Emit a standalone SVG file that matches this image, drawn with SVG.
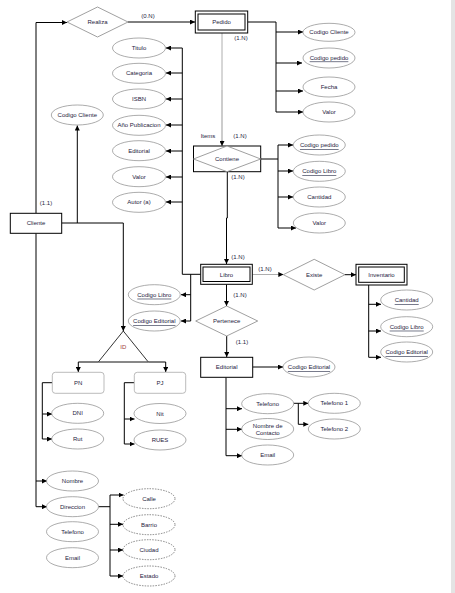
<svg xmlns="http://www.w3.org/2000/svg" width="455" height="593" viewBox="0 0 455 593">
<defs>
<marker id="arr" markerUnits="userSpaceOnUse" markerWidth="5" markerHeight="5" refX="5" refY="2.5" orient="auto"><path d="M0,0 L5,2.5 L0,5 z" fill="#000"/></marker>
<style>
text{font-family:"Liberation Sans",Arial,sans-serif;font-size:6px;fill:#1e2340;text-anchor:middle;dominant-baseline:central}
.u{text-decoration:underline}
.lbl{font-size:6px}
ellipse{fill:#fff;stroke:#888;stroke-width:0.7}
.dash{stroke-dasharray:1.5,1.2;stroke:#555}
.ent{fill:#fff;stroke:#000;stroke-width:1}
.rel{fill:#fff;stroke:#888;stroke-width:0.8}
.c{fill:none;stroke:#000;stroke-width:1}
.a{marker-end:url(#arr)}
.g{fill:none;stroke:#999;stroke-width:0.8}
.soft{fill:#fff;stroke:#aaa;stroke-width:0.8}
</style>
</defs>
<rect width="455" height="593" fill="#fff"/>
<rect x="451" y="0" width="4" height="593" fill="#e4e4e4"/>

<g id="connectors">
<polyline class="c a" points="36,213 36,22.5 67,22.5"/>
<line class="c a" x1="128" y1="22" x2="195" y2="22"/>
<polyline class="c" points="248,22 276,22 276,112"/>
<line class="c a" x1="276" y1="32" x2="303" y2="32"/>
<line class="c a" x1="276" y1="63" x2="302" y2="63"/>
<line class="c a" x1="276" y1="91" x2="303" y2="91"/>
<line class="c a" x1="276" y1="112" x2="303" y2="112"/>
<line class="g" x1="222" y1="33" x2="222" y2="90"/>
<line stroke="#ccc" stroke-width="2" x1="222" y1="90" x2="222" y2="142"/>
<line class="g a" x1="222" y1="140" x2="222" y2="146"/>
<polyline class="c" points="261,159 278,159"/>
<line class="c" x1="278" y1="145" x2="278" y2="228"/>
<line class="c a" x1="278" y1="145" x2="293" y2="145"/>
<line class="c a" x1="278" y1="171" x2="293" y2="171"/>
<line class="c a" x1="278" y1="197" x2="293" y2="197"/>
<line class="c a" x1="278" y1="228" x2="296" y2="228"/>
<polyline class="c a" points="227.3,172 227.3,218 226.5,218 226.5,264"/>
<polyline class="c" points="182.3,48 182.3,274.3 200.7,274.3"/>
<line class="c a" x1="182.3" y1="48" x2="166" y2="48"/>
<line class="c a" x1="182.3" y1="73" x2="166" y2="73"/>
<line class="c a" x1="182.3" y1="99" x2="166" y2="99"/>
<line class="c a" x1="182.3" y1="125" x2="166" y2="125"/>
<line class="c a" x1="182.3" y1="151" x2="166" y2="151"/>
<line class="c a" x1="182.3" y1="177" x2="166" y2="177"/>
<line class="c a" x1="182.3" y1="202" x2="166" y2="202"/>
<polyline class="c" points="190.7,274.3 190.7,321"/>
<line class="c a" x1="190.7" y1="294.7" x2="181" y2="294.7"/>
<line class="c a" x1="190.7" y1="321" x2="181" y2="321"/>
<line class="c a" x1="226.5" y1="284.3" x2="226.5" y2="306"/>
<line class="c a" x1="226.7" y1="336" x2="226.7" y2="357"/>
<line class="c a" x1="252.7" y1="367" x2="283" y2="367"/>
<line class="c" x1="226" y1="377.3" x2="226" y2="455.7"/>
<line class="c a" x1="226" y1="408.7" x2="242" y2="408.7"/>
<line class="c a" x1="226" y1="429.3" x2="242" y2="429.3"/>
<line class="c a" x1="226" y1="455.7" x2="242" y2="455.7"/>
<line class="c a" x1="293.5" y1="403.3" x2="308.3" y2="403.3"/>
<polyline class="c a" points="298.3,403.3 298.3,424.3 308.3,424.3"/>
<line class="g a" x1="252.3" y1="274.5" x2="283.3" y2="274.5"/>
<line class="c a" x1="345" y1="274.7" x2="356" y2="274.7"/>
<line class="c" x1="368.7" y1="285" x2="368.7" y2="357.3"/>
<line class="c a" x1="368.7" y1="304.3" x2="381" y2="304.3"/>
<line class="c a" x1="368.7" y1="331" x2="381" y2="331"/>
<line class="c a" x1="368.7" y1="357.3" x2="381" y2="357.3"/>
<polyline class="c a" points="61.7,223 123.3,223 123.3,331"/>
<line class="c a" x1="77.3" y1="223" x2="77.3" y2="125.5"/>
<line class="c" x1="36" y1="233.3" x2="36" y2="506.7"/>
<line class="c a" x1="36" y1="481" x2="47" y2="481"/>
<line class="c a" x1="36" y1="506.7" x2="47" y2="506.7"/>
<polyline class="c" points="98.3,506.7 110,506.7"/>
<line class="c" x1="110" y1="495" x2="110" y2="576"/>
<line class="c a" x1="110" y1="495" x2="123.5" y2="495"/>
<line class="c a" x1="110" y1="524.3" x2="123" y2="524.3"/>
<line class="c a" x1="110" y1="550" x2="123" y2="550"/>
<line class="c a" x1="110" y1="576" x2="123" y2="576"/>
<polyline class="c a" points="98.3,362 78.3,362 78.3,372"/>
<polyline class="c a" points="148.3,362 165.7,362 165.7,372"/>
<polyline class="c" points="52.3,382.7 42.3,382.7 42.3,439"/>
<line class="c a" x1="42.3" y1="414" x2="52" y2="414"/>
<line class="c a" x1="42.3" y1="439" x2="52" y2="439"/>
<polyline class="c" points="134.3,382.7 124.3,382.7 124.3,444"/>
<line class="c a" x1="124.3" y1="419" x2="134.5" y2="419"/>
<line class="c a" x1="124.3" y1="444" x2="134.5" y2="444"/>
</g>

<g id="labels">
<text x="148" y="16">(0.N)</text>
<text x="241" y="38">(1.N)</text>
<text x="208" y="136">Items</text>
<text x="240" y="136">(1.N)</text>
<text x="238" y="177">(1.N)</text>
<text x="238" y="257">(1.N)</text>
<text x="240" y="295">(1.N)</text>
<text x="242" y="342">(1.1)</text>
<text x="265" y="269">(1.N)</text>
<text x="46" y="203">(1.1)</text>
</g>

<g id="realiza"><polygon class="rel" points="67,22 97.5,7 128,22 97.5,37"/><text x="97.5" y="22">Realiza</text></g>
<g id="pedido"><rect class="ent" x="195.3" y="11" width="52.4" height="22"/><rect class="ent" x="198" y="14" width="47" height="16"/><text x="221.5" y="22">Pedido</text></g>
<g id="pedido-codcliente"><ellipse cx="329" cy="32.3" rx="26" ry="9"/><text x="329" y="32.3">Codigo Cliente</text></g>
<g id="pedido-codpedido"><ellipse cx="329" cy="58" rx="26" ry="10"/><text class="u" x="329" y="57.5">Codigo pedido</text></g>
<g id="pedido-fecha"><ellipse cx="329" cy="87" rx="26" ry="10"/><text x="329" y="86.7">Fecha</text></g>
<g id="pedido-valor"><ellipse cx="329" cy="112" rx="26" ry="10"/><text x="329" y="111.7">Valor</text></g>

<g id="contiene"><rect class="ent" x="193.5" y="146" width="67.2" height="25.7"/><polygon class="rel" points="193.5,159 227,146 260.7,159 227,171.7"/><text x="227" y="159">Contiene</text></g>
<g id="contiene-codpedido"><ellipse cx="319.3" cy="145" rx="26" ry="10"/><text class="u" x="319.3" y="145">Codigo pedido</text></g>
<g id="contiene-codlibro"><ellipse cx="319.3" cy="171.3" rx="26" ry="10"/><text class="u" x="319.3" y="171.3">Codigo Libro</text></g>
<g id="contiene-cantidad"><ellipse cx="319.3" cy="197" rx="26" ry="10"/><text x="319.3" y="197">Cantidad</text></g>
<g id="contiene-valor"><ellipse cx="319.3" cy="223" rx="26" ry="10"/><text x="319.3" y="222.7">Valor</text></g>

<g id="libro-titulo"><ellipse cx="139" cy="48" rx="26.5" ry="10"/><text x="139" y="48">Titulo</text></g>
<g id="libro-categoria"><ellipse cx="139" cy="73.3" rx="26.5" ry="10"/><text x="139" y="73.3">Categoria</text></g>
<g id="libro-isbn"><ellipse cx="139" cy="99" rx="26.5" ry="10"/><text x="139" y="99">ISBN</text></g>
<g id="libro-anio"><ellipse cx="139" cy="125.3" rx="26.5" ry="10"/><text x="139" y="125.3">Año Publicacion</text></g>
<g id="libro-editorial"><ellipse cx="139" cy="150.7" rx="26.5" ry="10"/><text x="139" y="150.7">Editorial</text></g>
<g id="libro-valor"><ellipse cx="139" cy="176.7" rx="26.5" ry="10"/><text x="139" y="176.7">Valor</text></g>
<g id="libro-autor"><ellipse cx="139" cy="202.3" rx="26.5" ry="10"/><text x="139" y="202.3">Autor (a)</text></g>

<g id="libro"><rect class="ent" x="200.7" y="264.3" width="51.6" height="20"/><rect class="ent" x="203" y="267" width="47" height="14.5"/><text x="226.5" y="274.5">Libro</text></g>
<g id="libro-codlibro"><ellipse cx="154.3" cy="294.7" rx="26" ry="10"/><text class="u" x="154.3" y="294.7">Codigo Libro</text></g>
<g id="libro-codeditorial"><ellipse cx="154.3" cy="321" rx="26" ry="10"/><text class="u" x="154.3" y="321">Codigo Editorial</text></g>

<g id="existe"><polygon class="rel" points="283.3,274.7 314.2,259.3 345,274.7 314.2,290"/><text x="314.2" y="274.7">Existe</text></g>
<g id="inventario"><rect class="ent" x="356" y="264.3" width="51" height="20.7"/><rect class="ent" x="358.7" y="267" width="45.6" height="15.3"/><text x="381.5" y="274.7">Inventario</text></g>
<g id="inv-cantidad"><ellipse cx="406.7" cy="300" rx="26" ry="10"/><text class="u" x="406.7" y="300">Cantidad</text></g>
<g id="inv-codlibro"><ellipse cx="406.7" cy="326.7" rx="26" ry="10"/><text class="u" x="406.7" y="326.7">Codigo Libro</text></g>
<g id="inv-codeditorial"><ellipse cx="406.7" cy="352" rx="26" ry="10"/><text class="u" x="406.7" y="352">Codigo Editorial</text></g>

<g id="pertenece"><polygon class="rel" points="195.7,321 226.7,306 257.7,321 226.7,336"/><text x="226.7" y="321">Pertenece</text></g>
<g id="editorial"><rect class="ent" x="200.7" y="357.3" width="52" height="20"/><text x="226.7" y="367.3">Editorial</text></g>
<g id="ed-codeditorial"><ellipse cx="309" cy="367" rx="26" ry="10"/><text class="u" x="309" y="367">Codigo Editorial</text></g>
<g id="ed-telefono"><ellipse cx="267.7" cy="403.7" rx="26" ry="10"/><text x="267.7" y="403.7">Telefono</text></g>
<g id="ed-contacto"><ellipse cx="267.7" cy="429" rx="26" ry="10.5"/><text x="267.7" y="425.5">Nombre de</text><text x="267.7" y="432.5">Contacto</text></g>
<g id="ed-email"><ellipse cx="267.7" cy="455" rx="26" ry="10"/><text x="267.7" y="454.7">Email</text></g>
<g id="ed-tel1"><ellipse cx="334.3" cy="403.3" rx="26" ry="10"/><text x="334.3" y="403.3">Telefono 1</text></g>
<g id="ed-tel2"><ellipse cx="334.3" cy="429" rx="26" ry="10"/><text x="334.3" y="428.7">Telefono 2</text></g>

<g id="cliente"><rect class="ent" x="10.3" y="213.3" width="51.4" height="20"/><text x="36" y="223.3">Cliente</text></g>
<g id="cliente-codcliente"><ellipse cx="77.3" cy="115" rx="26" ry="10"/><text x="77.3" y="115">Codigo Cliente</text></g>
<g id="cliente-nombre"><ellipse cx="72.5" cy="481" rx="26" ry="10"/><text x="72.5" y="481">Nombre</text></g>
<g id="cliente-direccion"><ellipse cx="72.5" cy="506.7" rx="26" ry="10"/><text x="72.5" y="506.7">Direccion</text></g>
<g id="cliente-telefono"><ellipse cx="72.5" cy="531.7" rx="26" ry="10"/><text x="72.5" y="531.7">Telefono</text></g>
<g id="cliente-email"><ellipse cx="72.5" cy="557.7" rx="26" ry="10"/><text x="72.5" y="557.7">Email</text></g>
<g id="dir-calle"><ellipse class="dash" cx="149" cy="498.7" rx="26" ry="10"/><text x="149" y="498.7">Calle</text></g>
<g id="dir-barrio"><ellipse class="dash" cx="149" cy="524.7" rx="26" ry="10"/><text x="149" y="524.7">Barrio</text></g>
<g id="dir-ciudad"><ellipse class="dash" cx="149" cy="549.7" rx="26" ry="10"/><text x="149" y="549.7">Ciudad</text></g>
<g id="dir-estado"><ellipse class="dash" cx="149" cy="576" rx="26" ry="10"/><text x="149" y="576">Estado</text></g>

<g id="id"><polygon fill="#fff" stroke="#000" stroke-width="0.8" points="123.3,331 148.3,362 98.3,362"/><line x1="98.3" y1="362" x2="148.3" y2="362" stroke="#777" stroke-width="1.2"/><text x="123.3" y="347" style="fill:#a03a3a">ID</text></g>
<g id="pn"><rect class="soft" x="52.3" y="372.3" width="51.7" height="21" rx="3"/><text x="78.2" y="382.8">PN</text></g>
<g id="pj"><rect class="soft" x="134.3" y="372.3" width="51.4" height="21" rx="3"/><text x="160" y="382.8">PJ</text></g>
<g id="pn-dni"><ellipse cx="77.7" cy="413.3" rx="26" ry="10"/><text x="77.7" y="413.3">DNI</text></g>
<g id="pn-rut"><ellipse cx="77.7" cy="439" rx="26" ry="10"/><text x="77.7" y="439">Rut</text></g>
<g id="pj-nit"><ellipse cx="160" cy="413.5" rx="26" ry="10"/><text x="160" y="413.5">Nit</text></g>
<g id="pj-rues"><ellipse cx="160" cy="440" rx="26" ry="10"/><text x="160" y="440">RUES</text></g>
</svg>
